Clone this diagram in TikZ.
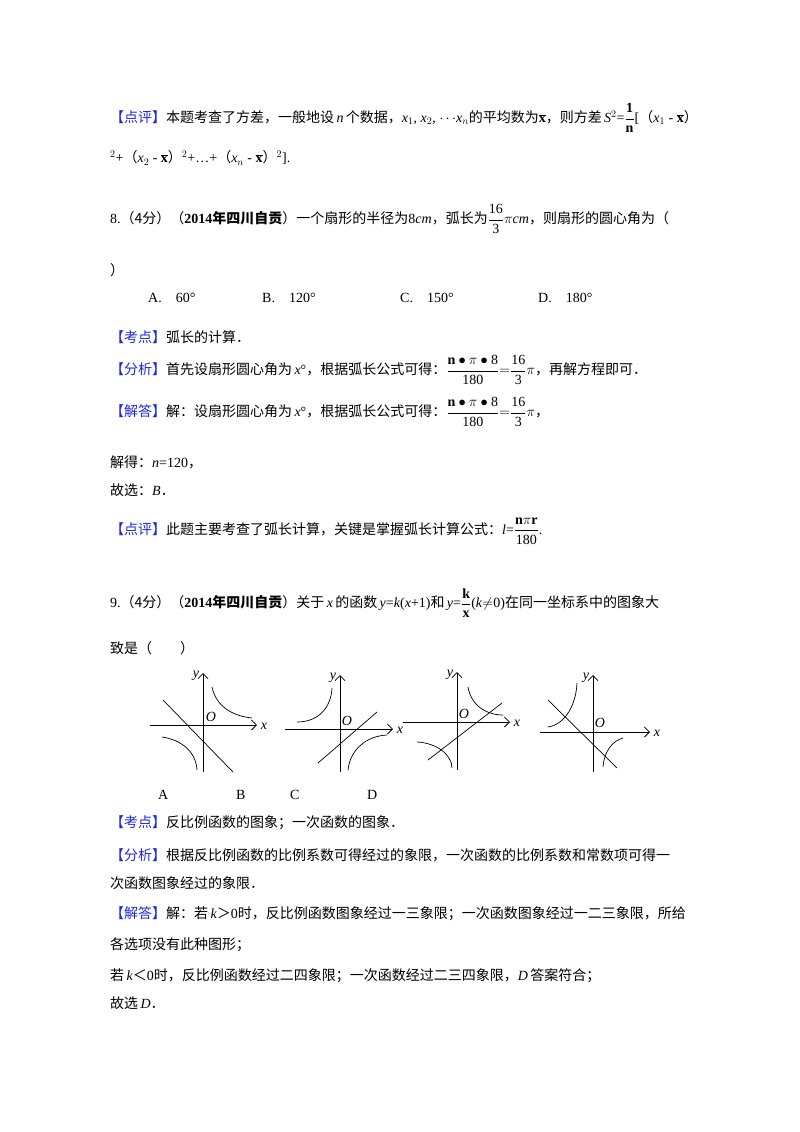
\documentclass[tikz,border=0pt]{standalone}
\usepackage{fontspec}
\usetikzlibrary{arrows.meta}
\setmainfont{Liberation Serif}
\newfontfamily\cjk{Noto Sans CJK SC}
\definecolor{lab}{RGB}{30,40,220}
\newcommand{\tg}[1]{{\cjk\color{lab}【#1】}}
\newcommand{\zh}[1]{{\cjk #1}}
\newcommand{\fr}[2]{{\displaystyle\frac{\mathrm{#1}}{\mathrm{#2}}}}
\begin{document}
\begin{tikzpicture}[x=1pt,y=-1pt,
 ln/.style={anchor=west,inner sep=0pt,font=\fontsize{14}{16}\selectfont},
 ax/.style={line width=0.8pt,-{Straight Barb[length=5pt]}},
 al/.style={font=\fontsize{14}{16}\selectfont\itshape},
 cv/.style={line width=0.7pt}]
\useasboundingbox (0,0) rectangle (800,1132);
\node[ln] (l1) at (110,118) {\tg{点评}\zh{本题考查了方差，一般地设}\,\textit{n}\,\zh{个数据，}\textit{x}$_1$, \textit{x}$_2$, $\cdots$\textit{x}$_n$\zh{的平均数为}$\overline{\mathbf x}$\zh{，则方差}\,\textit{S}$^2$=$\fr{\mathbf 1}{\mathbf n}$[\zh{（}\textit{x}$_1$ - $\overline{\mathbf x}$\zh{）}};
\node[ln] (l2) at (110,158) {$^2$+\zh{（}\textit{x}$_2$ - $\overline{\mathbf x}$\zh{）}$^2$+…+\zh{（}\textit{x}$_n$ - $\overline{\mathbf x}$\zh{）}$^2$].};
\node[ln] (l3) at (110,219) {8.\zh{（4分）（}\textbf{2014}\zh{\bfseries 年四川自贡}\zh{）一个扇形的半径为}8\textit{cm}\zh{，弧长为}$\fr{16}{3}\pi$\textit{cm}\zh{，则扇形的圆心角为（}};
\node[ln] (l4) at (110,270) {\zh{）}};
\node[ln] (a1) at (148,298) {A.\quad 60°};
\node[ln] (a2) at (262,298) {B.\quad 120°};
\node[ln] (a3) at (400,298) {C.\quad 150°};
\node[ln] (a4) at (538,298) {D.\quad 180°};
\node[ln] (l5) at (110,337) {\tg{考点}\zh{弧长的计算．}};
\node[ln] (l6) at (110,370) {\tg{分析}\zh{首先设扇形圆心角为}\,\textit{x}°\zh{，根据弧长公式可得：}$\fr{\mathbf n\bullet\pi\bullet 8}{180}{=}\fr{16}{3}\pi$\zh{，再解方程即可．}};
\node[ln] (l7) at (110,412) {\tg{解答}\zh{解：设扇形圆心角为}\,\textit{x}°\zh{，根据弧长公式可得：}$\fr{\mathbf n\bullet\pi\bullet 8}{180}{=}\fr{16}{3}\pi$\zh{，}};
\node[ln] (l8) at (110,462) {\zh{解得：}\textit{n}=120\zh{，}};
\node[ln] (l9) at (110,490) {\zh{故选：}\textit{B}\zh{．}};
\node[ln] (l10) at (110,531) {\tg{点评}\zh{此题主要考查了弧长计算，关键是掌握弧长计算公式：}\textit{l}=$\fr{\mathbf n\pi\mathbf r}{180}$.};
\node[ln] (l11) at (110,603) {9.\zh{（4分）（}\textbf{2014}\zh{\bfseries 年四川自贡}\zh{）关于}\,\textit{x}\,\zh{的函数}\,\textit{y}=\textit{k}(\textit{x}+1)\zh{和}\,\textit{y}=$\fr{\mathbf k}{\mathbf x}$(\textit{k}$\neq$0)\zh{在同一坐标系中的图象大}};
\node[ln] (l12) at (110,648) {\zh{致是（\qquad ）}};
% panel A
\draw[ax] (150,725) -- (257,725); \draw[ax] (203,772) -- (203,673);
\draw[cv] (163,700) -- (233,772);
\draw[cv] (212,687) .. controls (216,706) and (232,716) .. (252,718);
\draw[cv] (162,737) .. controls (182,740) and (196,752) .. (197,770);
\node[al] (oA) at (211,717) {O};
\node[al] (yA) at (196,676) {y};
\node[al] (xA) at (264,726) {x};
% panel B
\draw[ax] (285,729) -- (393,729); \draw[ax] (340,772) -- (340,675);
\draw[cv] (318,763) -- (377,712);
\draw[cv] (297,722) .. controls (318,722) and (331,708) .. (332,688);
\draw[cv] (348,770) .. controls (350,750) and (366,736) .. (387,735);
\node[al] (oB) at (347,721) {O};
\node[al] (yB) at (333,678) {y};
\node[al] (xB) at (400,730) {x};
% panel C
\draw[ax] (403,722) -- (510,722); \draw[ax] (457,770) -- (457,672);
\draw[cv] (428,760) -- (502,703);
\draw[cv] (468,687) .. controls (471,705) and (486,715) .. (503,715);
\draw[cv] (417,742) .. controls (437,743) and (452,755) .. (452,768);
\node[al] (oC) at (464,714) {O};
\node[al] (yC) at (450,675) {y};
\node[al] (xC) at (517,723) {x};
% panel D
\draw[ax] (540,732) -- (650,732); \draw[ax] (593,772) -- (593,675);
\draw[cv] (548,700) -- (617,768);
\draw[cv] (548,727) .. controls (566,724) and (576,704) .. (577,683);
\draw[cv] (603,767) .. controls (604,752) and (612,741) .. (623,738);
\node[al] (oD) at (600,723) {O};
\node[al] (yD) at (586,678) {y};
\node[al] (xD) at (657,733) {x};
\node[ln] (LA) at (158,795) {A};
\node[ln] (LB) at (236,795) {B};
\node[ln] (LC) at (290,795) {C};
\node[ln] (LD) at (367,795) {D};
\node[ln] (l13) at (110,823) {\tg{考点}\zh{反比例函数的图象；一次函数的图象．}};
\node[ln] (l14) at (110,855) {\tg{分析}\zh{根据反比例函数的比例系数可得经过的象限，一次函数的比例系数和常数项可得一}};
\node[ln] (l15) at (110,883) {\zh{次函数图象经过的象限．}};
\node[ln] (l16) at (110,914) {\tg{解答}\zh{解：若}\,\textit{k}\zh{＞}0\zh{时，反比例函数图象经过一三象限；一次函数图象经过一二三象限，所给}};
\node[ln] (l17) at (110,945) {\zh{各选项没有此种图形；}};
\node[ln] (l18) at (110,976) {\zh{若}\,\textit{k}\zh{＜}0\zh{时，反比例函数经过二四象限；一次函数经过二三四象限，}\textit{D}\,\zh{答案符合；}};
\node[ln] (l19) at (110,1003) {\zh{故选}\,\textit{D}\zh{．}};
\end{tikzpicture}
\end{document}
